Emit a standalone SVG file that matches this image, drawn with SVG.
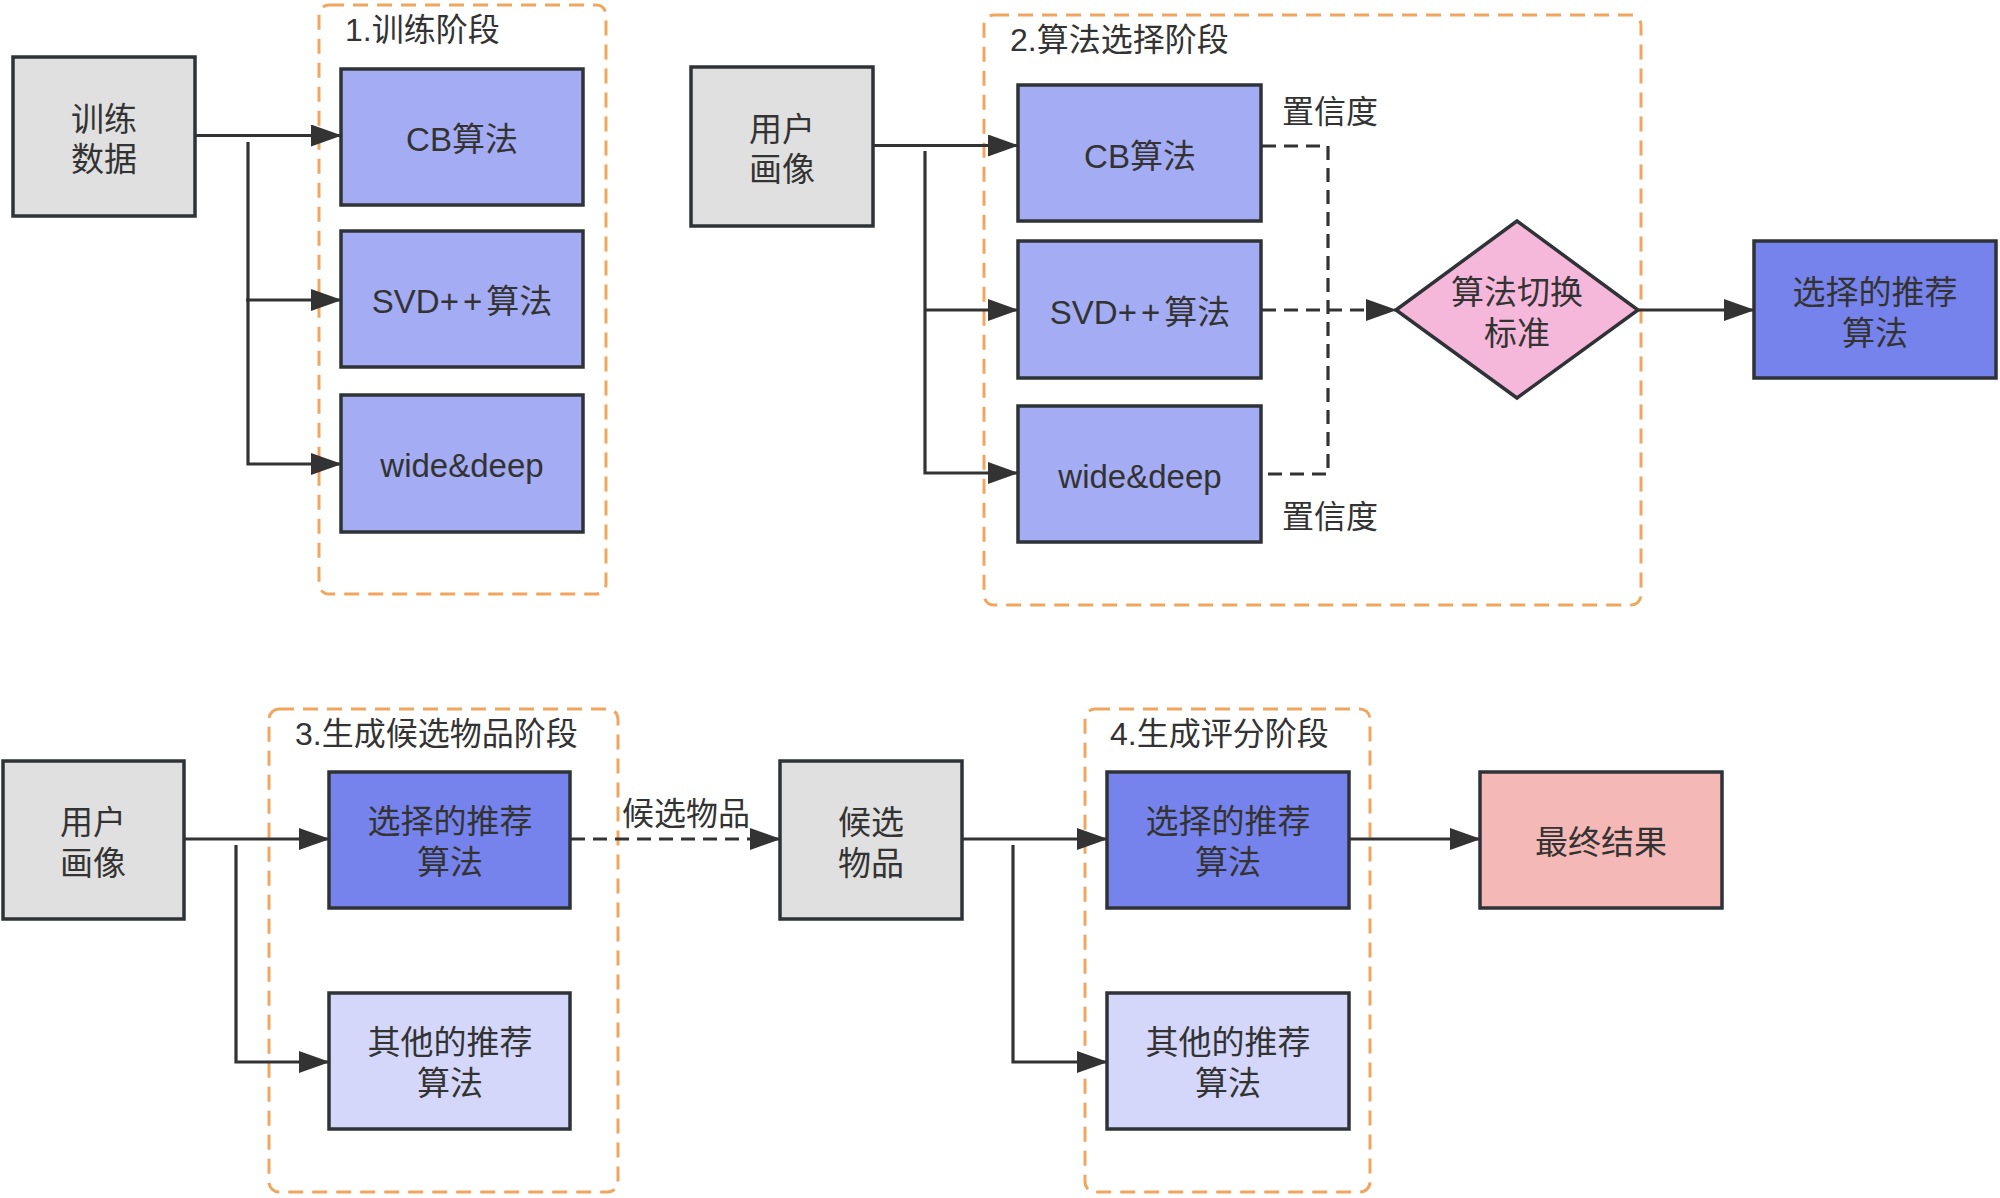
<svg xmlns="http://www.w3.org/2000/svg" width="2000" height="1198" viewBox="0 0 2000 1198">
<style>
.grp{fill:none;stroke:#f0a65e;stroke-width:3;stroke-dasharray:15 9}
.box{stroke:#2f3337;stroke-width:3.5}
.gray{fill:#e0e0e0}
.alg{fill:#a4acf4}
.sel{fill:#7683ec}
.oth{fill:#d4d7fa}
.dia{fill:#f6b8da}
.fin{fill:#f4b8b6}
text{font-family:"Liberation Sans","Noto Sans CJK SC",sans-serif;font-size:33px;fill:#333}
.c{text-anchor:middle;dominant-baseline:central}
.t{dominant-baseline:central;font-size:32px}
.ln{fill:none;stroke:#333;stroke-width:3.2}
.dl{fill:none;stroke:#333;stroke-width:3.2;stroke-dasharray:14 8}
</style>
<defs>
<marker id="ah" markerUnits="userSpaceOnUse" markerWidth="31" markerHeight="22" refX="30" refY="11" orient="auto">
<path d="M0,0 L31,11 L0,22 z" fill="#333"/>
</marker>
</defs>
<rect width="2000" height="1198" fill="#fff"/>

<g id="stage1">
<rect class="grp" x="319" y="5" width="287" height="589" rx="10"/>
<text class="t" x="345" y="30">1.训练阶段</text>
</g>
<g id="stage2">
<rect class="grp" x="984" y="15" width="657" height="590" rx="10"/>
<text class="t" x="1010" y="40">2.算法选择阶段</text>
</g>
<g id="stage3">
<rect class="grp" x="269" y="709" width="349" height="483" rx="10"/>
<text class="t" x="295" y="734">3.生成候选物品阶段</text>
</g>
<g id="stage4">
<rect class="grp" x="1085" y="709" width="285" height="483" rx="10"/>
<text class="t" x="1110" y="734">4.生成评分阶段</text>
</g>

<g id="train-data">
<rect class="box gray" x="13" y="57" width="182" height="159"/>
<text class="c" x="104" y="119">训练<tspan x="104" dy="40">数据</tspan></text>
</g>
<g id="cb1">
<rect class="box alg" x="341" y="69" width="242" height="136"/>
<text class="c" x="462" y="139">CB算法</text>
</g>
<g id="svd1">
<rect class="box alg" x="341" y="231" width="242" height="136"/>
<text class="c" x="462" y="301">SVD<tspan letter-spacing="4">++</tspan>算法</text>
</g>
<g id="wd1">
<rect class="box alg" x="341" y="395" width="242" height="137"/>
<text class="c" x="462" y="465">wide&amp;deep</text>
</g>

<g id="user1">
<rect class="box gray" x="691" y="67" width="182" height="159"/>
<text class="c" x="782" y="129">用户<tspan x="782" dy="40">画像</tspan></text>
</g>
<g id="cb2">
<rect class="box alg" x="1018" y="85" width="243" height="136"/>
<text class="c" x="1140" y="156">CB算法</text>
</g>
<g id="svd2">
<rect class="box alg" x="1018" y="241" width="243" height="137"/>
<text class="c" x="1140" y="312">SVD<tspan letter-spacing="4">++</tspan>算法</text>
</g>
<g id="wd2">
<rect class="box alg" x="1018" y="406" width="243" height="136"/>
<text class="c" x="1140" y="476">wide&amp;deep</text>
</g>
<g id="conf-top"><text class="t" x="1282" y="112">置信度</text></g>
<g id="conf-bottom"><text class="t" x="1282" y="517">置信度</text></g>
<g id="switch">
<polygon class="box dia" points="1396,310 1517,221 1638,310 1517,398"/>
<text class="c" x="1517" y="292">算法切换<tspan x="1517" dy="41">标准</tspan></text>
</g>
<g id="chosen">
<rect class="box sel" x="1754" y="241" width="242" height="137"/>
<text class="c" x="1875" y="292">选择的推荐<tspan x="1875" dy="41">算法</tspan></text>
</g>

<g id="user2">
<rect class="box gray" x="3" y="761" width="181" height="158"/>
<text class="c" x="93" y="822">用户<tspan x="93" dy="41">画像</tspan></text>
</g>
<g id="sel3">
<rect class="box sel" x="329" y="772" width="241" height="136"/>
<text class="c" x="450" y="821">选择的推荐<tspan x="450" dy="41">算法</tspan></text>
</g>
<g id="oth3">
<rect class="box oth" x="329" y="993" width="241" height="136"/>
<text class="c" x="450" y="1042">其他的推荐<tspan x="450" dy="41">算法</tspan></text>
</g>
<g id="cand-label"><text class="t" x="622" y="814">候选物品</text></g>
<g id="cand">
<rect class="box gray" x="780" y="761" width="182" height="158"/>
<text class="c" x="871" y="822">候选<tspan x="871" dy="41">物品</tspan></text>
</g>
<g id="sel4">
<rect class="box sel" x="1107" y="772" width="242" height="136"/>
<text class="c" x="1228" y="821">选择的推荐<tspan x="1228" dy="41">算法</tspan></text>
</g>
<g id="oth4">
<rect class="box oth" x="1107" y="993" width="242" height="136"/>
<text class="c" x="1228" y="1042">其他的推荐<tspan x="1228" dy="41">算法</tspan></text>
</g>
<g id="final">
<rect class="box fin" x="1480" y="772" width="242" height="136"/>
<text class="c" x="1601" y="842">最终结果</text>
</g>

<g id="connectors">
<path class="ln" d="M195,135.5 H341" marker-end="url(#ah)"/>
<path class="ln" d="M248,142 V464 H341" marker-end="url(#ah)"/>
<path class="ln" d="M246,300 H341" marker-end="url(#ah)"/>

<path class="ln" d="M873,145.5 H1018" marker-end="url(#ah)"/>
<path class="ln" d="M925,151 V473 H1018" marker-end="url(#ah)"/>
<path class="ln" d="M925,310 H1018" marker-end="url(#ah)"/>
<path class="dl" d="M1262,146 H1328 V474 H1262"/>
<path class="dl" d="M1262,310 H1396" marker-end="url(#ah)"/>
<path class="ln" d="M1638,310 L1754,310" marker-end="url(#ah)"/>

<path class="ln" d="M184,839 H329" marker-end="url(#ah)"/>
<path class="ln" d="M236,845 V1062 H329" marker-end="url(#ah)"/>
<path class="dl" d="M571,839 H780" marker-end="url(#ah)"/>
<path class="ln" d="M962,839 H1107" marker-end="url(#ah)"/>
<path class="ln" d="M1013,845 V1062 H1107" marker-end="url(#ah)"/>
<path class="ln" d="M1349,839 H1480" marker-end="url(#ah)"/>
</g>
</svg>
